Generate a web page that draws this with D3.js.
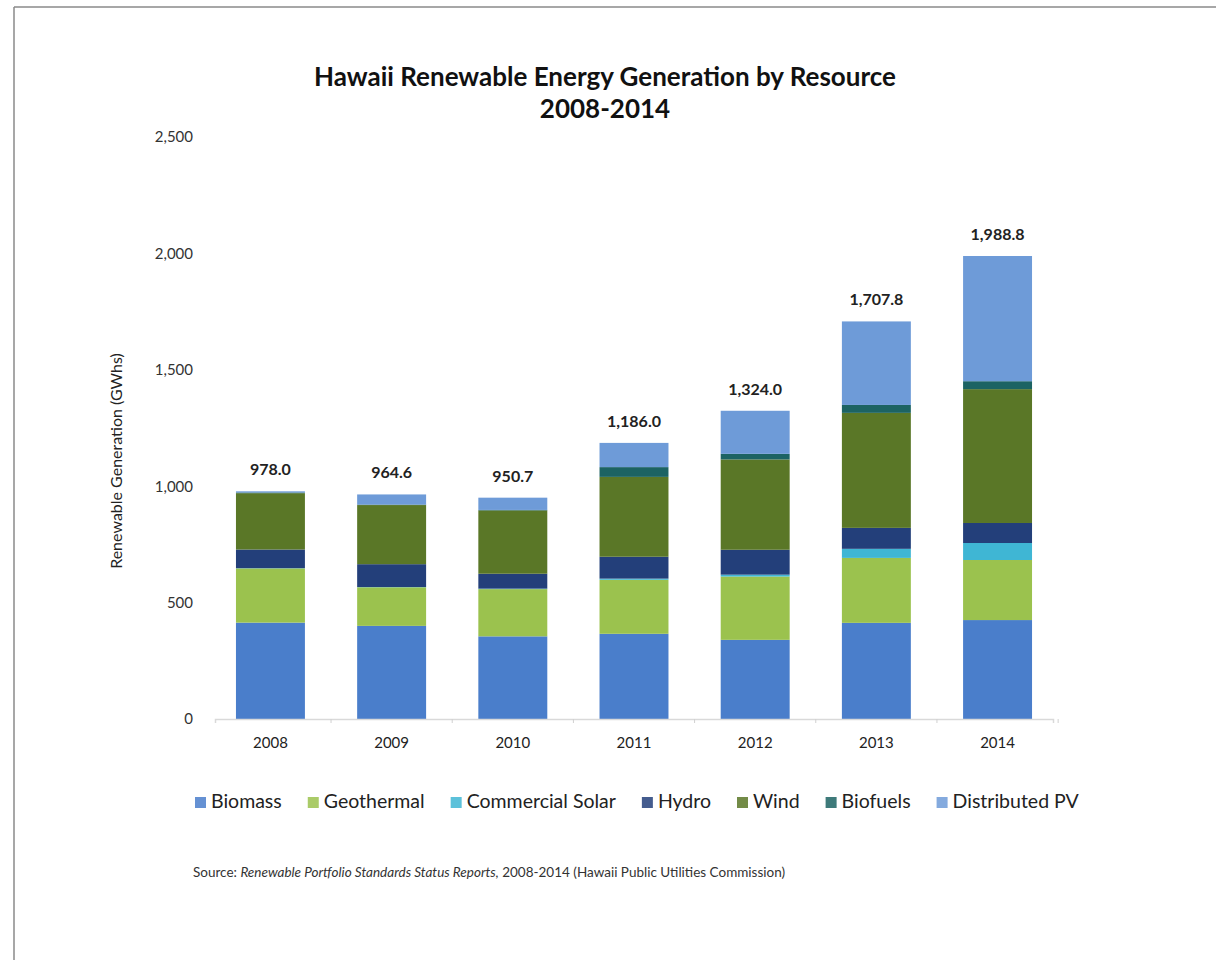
<!DOCTYPE html>
<html>
<head>
<meta charset="utf-8">
<script src="https://cdn.jsdelivr.net/npm/d3@7"></script>
<style>
  html, body { margin: 0; padding: 0; background: #fff; }
  svg { display: block; }
</style>
</head>
<body>
<svg id="chart" width="1216" height="960"></svg>
<script>
// Renewable generation (GWh) by resource, Hawaii, 2008-2014
const years = ["2008", "2009", "2010", "2011", "2012", "2013", "2014"];
const resources = ["Biomass", "Geothermal", "Commercial Solar", "Hydro", "Wind", "Biofuels", "Distributed PV"];
const biomass        = [414, 400, 355, 366, 340, 413, 425];
const geothermal     = [233, 166, 203, 232, 272, 279, 258];
const commercialSolar= [1, 1, 2, 5, 8, 39, 73];
const hydro          = [80, 98, 64, 94, 107, 90, 86];
const wind           = [242, 254, 272, 343, 388, 494, 575];
const biofuels       = [3, 2, 2, 42, 24, 34, 34];
const distributedPV  = [5, 43.6, 52.7, 104, 185, 358.8, 537.8];
const totals         = [978.0, 964.6, 950.7, 1186.0, 1324.0, 1707.8, 1988.8];
const yTicks = [0, 500, 1000, 1500, 2000, 2500];

const seriesValues = [biomass, geothermal, commercialSolar, hydro, wind, biofuels, distributedPV];
const colors = ["#4a7ecb", "#9bc24e", "#3fb6d4", "#233f7a", "#5a7727", "#1c6363", "#6e9bd8"];

const rows = years.map((yr, i) => {
  const r = { year: yr };
  resources.forEach((k, j) => { r[k] = seriesValues[j][i]; });
  return r;
});

const svg = d3.select("#chart");
const font = "Lato, 'Open Sans', 'Liberation Sans', sans-serif";

// frame lines along top and left
svg.append("line").attr("x1", 14).attr("x2", 1216).attr("y1", 7).attr("y2", 7)
  .attr("stroke", "#8a8a8a").attr("stroke-width", 1.5);
svg.append("line").attr("x1", 14).attr("x2", 14).attr("y1", 7).attr("y2", 960)
  .attr("stroke", "#8a8a8a").attr("stroke-width", 1.5);

const plotLeft = 215, plotRight = 1053, plotTop = 137, plotBottom = 719;
const x = d3.scaleBand().domain(years).range([plotLeft, plotRight]).paddingInner(0.431).paddingOuter(0.173);
const y = d3.scaleLinear().domain([0, 2500]).range([plotBottom, plotTop]);

// title
svg.append("text").attr("x", 605).attr("y", 86).attr("text-anchor", "middle")
  .attr("font-family", font).attr("font-weight", "bold").attr("font-size", 26)
  .attr("fill", "#111").text("Hawaii Renewable Energy Generation by Resource");
svg.append("text").attr("x", 605).attr("y", 118).attr("text-anchor", "middle")
  .attr("font-family", font).attr("font-weight", "bold").attr("font-size", 26)
  .attr("fill", "#111").text("2008-2014");

// y axis (labels only)
const yAxis = svg.append("g").attr("transform", `translate(${plotLeft - 22},0)`)
  .call(d3.axisLeft(y).tickValues(yTicks).tickFormat(d3.format(",")).tickSize(0).tickPadding(0));
yAxis.select(".domain").remove();
yAxis.selectAll("text").attr("font-family", font).attr("font-size", 15).attr("fill", "#333");

svg.append("text")
  .attr("transform", "translate(122,461) rotate(-90)")
  .attr("text-anchor", "middle").attr("font-family", font).attr("font-size", 16)
  .attr("fill", "#222").text("Renewable Generation (GWhs)");

// stacked bars
const stack = d3.stack().keys(resources)(rows);
svg.append("g").selectAll("g").data(stack).join("g")
  .attr("fill", (d, i) => colors[i])
  .selectAll("rect").data(d => d).join("rect")
  .attr("x", d => x(d.data.year))
  .attr("width", x.bandwidth())
  .attr("y", d => y(d[1]))
  .attr("height", d => y(d[0]) - y(d[1]));

// x axis
const xAxis = svg.append("g").attr("transform", `translate(0,${plotBottom})`)
  .call(d3.axisBottom(x).tickSize(4).tickPadding(14));
xAxis.select(".domain").attr("stroke", "#d9d9d9").attr("stroke-width", 1.5);
xAxis.selectAll(".tick line").attr("stroke", "#d0d0d0")
  .attr("transform", `translate(${x.step() / 2},0)`);
xAxis.selectAll("text").attr("font-family", font).attr("font-size", 15).attr("fill", "#222");

// totals above bars
svg.append("g").selectAll("text").data(years).join("text")
  .attr("x", d => x(d) + x.bandwidth() / 2)
  .attr("y", (d, i) => y(totals[i]) - 16)
  .attr("text-anchor", "middle").attr("font-family", font).attr("font-weight", "bold")
  .attr("font-size", 16).attr("fill", "#222")
  .text((d, i) => d3.format(",.1f")(totals[i]));

// legend
const legend = svg.append("g").attr("transform", "translate(195,807)");
let lx = 0;
resources.forEach((r, i) => {
  const g = legend.append("g").attr("transform", `translate(${lx},0)`);
  g.append("rect").attr("x", 0).attr("y", -10).attr("width", 11).attr("height", 11)
    .attr("fill", colors[i]).attr("opacity", 0.85);
  const t = g.append("text").attr("x", 16).attr("y", 1).attr("font-family", font)
    .attr("font-size", 19.5).attr("fill", "#222").text(r);
  lx += 16 + t.node().getComputedTextLength() + 26;
});

// source note
const src = svg.append("text").attr("x", 193).attr("y", 877)
  .attr("font-family", font).attr("font-size", 13.5).attr("fill", "#333");
src.append("tspan").text("Source: ");
src.append("tspan").attr("font-style", "italic").text("Renewable Portfolio Standards Status Reports,");
src.append("tspan").text(" 2008-2014 (Hawaii Public Utilities Commission)");
</script>
</body>
</html>
